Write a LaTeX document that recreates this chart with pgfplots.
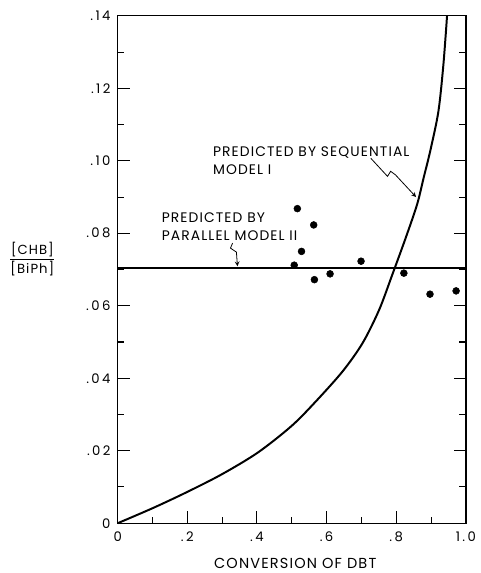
\documentclass[border=0pt]{standalone}
\usepackage{pgfplots}
\pgfplotsset{compat=1.18}
\usepackage{fontspec}
\setmainfont{Poppins}[LetterSpace=8]
\newfontfamily\tickfont{Poppins}[LetterSpace=18]
\begin{document}
\begin{tikzpicture}
\begin{axis}[name=ax, scale only axis, width=264pt, height=384.75pt,
  xmin=0, xmax=1, ymin=0, ymax=0.14, clip=false,
  xtick={0,0.2,0.4,0.6,0.8,1}, xticklabels={0,.2,.4,.6,.8,1.0},
  minor xtick={0.1,0.3,0.5,0.7,0.9},
  ytick={0,0.02,0.04,0.06,0.08,0.10,0.12,0.14},
  yticklabels={0,.02,.04,.06,.08,.10,.12,.14},
  minor ytick={0.01,0.03,0.05,0.07,0.09,0.11,0.13},
  tick align=inside, xtick pos=bottom, ytick pos=both, yticklabel pos=left,
  major tick length=9pt, minor tick length=5pt,
  tick style={black, line width=0.8pt},
  axis line style={line width=1pt},
  tick label style={font=\tickfont\fontsize{10}{11}\selectfont},
  xticklabel style={yshift=-3pt},
  yticklabel style={xshift=-2pt},
  /pgf/number format/assume math mode=true,
  xlabel={CONVERSION OF DBT},
  xlabel style={font=\fontsize{11}{12}\selectfont, at={(axis description cs:0.51,0)}, anchor=center, yshift=-30.5pt},
]
% sequential model I
\addplot[black, line width=1.5pt, smooth] coordinates {
(0,0) (0.1023,0.00423) (0.1989,0.00859) (0.2991,0.01350) (0.4026,0.01950)
(0.5000,0.02688) (0.5710,0.03380) (0.6469,0.04200) (0.7037,0.04975)
(0.7509,0.05886) (0.7889,0.06862) (0.8267,0.07858) (0.8599,0.08794)
(0.8785,0.09520) (0.8986,0.10307) (0.9213,0.11371) (0.9355,0.12653) (0.9460,0.14000)};
% parallel model II
\addplot[black, line width=1.5pt] coordinates {(0,0.0705) (1,0.0705)};
% data
\addplot[only marks, mark=*, mark size=2.6pt, black] coordinates {
(0.516,0.0868) (0.563,0.0823) (0.528,0.0750) (0.507,0.0712) (0.565,0.0672)
(0.610,0.0688) (0.699,0.0723) (0.822,0.0690) (0.897,0.0632) (0.972,0.0641)};
% annotations
\node[anchor=north west, align=left, inner sep=0pt, font=\fontsize{10.5}{13.5}\selectfont]
  at (axis cs:0.273,0.1040) {PREDICTED BY SEQUENTIAL\\MODEL I};
\node[anchor=north west, align=left, inner sep=0pt, font=\fontsize{10.5}{13.5}\selectfont]
  at (axis cs:0.126,0.0858) {PREDICTED BY\\PARALLEL MODEL II};
\draw[-stealth, line width=0.6pt] (axis cs:0.727,0.1007) -- (axis cs:0.775,0.0957) -- (axis cs:0.784,0.0971) -- (axis cs:0.798,0.0961) -- (axis cs:0.857,0.0900);
\draw[-stealth, line width=0.6pt] (axis cs:0.330,0.0773) -- (axis cs:0.324,0.0759) -- (axis cs:0.341,0.0748) -- (axis cs:0.344,0.0709);
\node[font=\fontsize{10}{10}\selectfont, inner sep=0pt] at (axis cs:-0.245,0.0729)
  {$\displaystyle\frac{\mbox{[CHB]}}{\mbox{[BiPh]}}$};
\end{axis}
\path (ax.south west) ++(-89.25pt,-33pt) rectangle ([shift={(9pt,12pt)}]ax.north east);
\end{tikzpicture}
\end{document}
